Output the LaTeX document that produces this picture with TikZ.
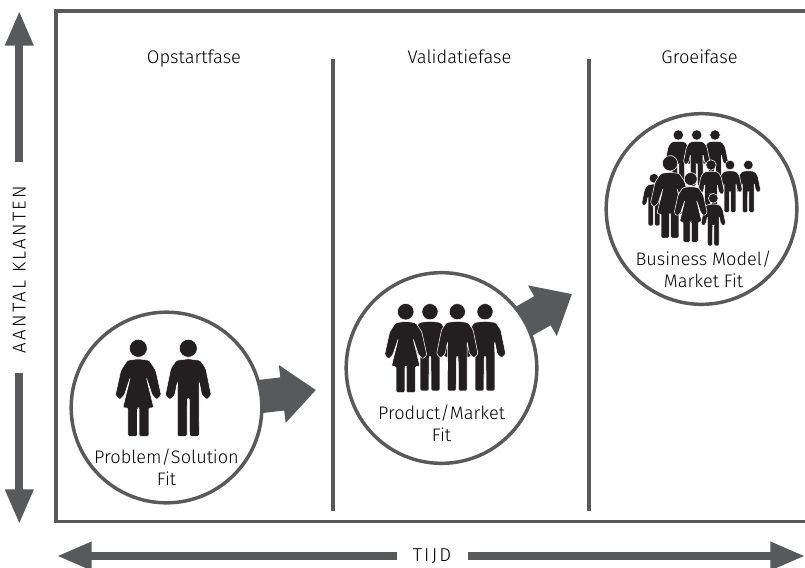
\documentclass[tikz,border=0pt]{standalone}
\usepackage{fontspec}
\setmainfont[UprightFont=* Light]{Fira Sans}
\usetikzlibrary{arrows.meta,backgrounds}
\definecolor{framegrey}{RGB}{88,89,91}
\definecolor{figblack}{RGB}{35,31,32}
\tikzset{
  frameline/.style={draw=framegrey,line width=2.8pt},
  fitcircle/.style={circle,draw=framegrey,line width=2.6pt,fill=white,minimum size=143pt,inner sep=0pt},
  fitarrow/.style={draw=framegrey,line width=25pt,-{Triangle[length=25.5pt,width=42pt]}},
  axisarrow/.style={draw=framegrey,line width=5.8pt,-{Triangle[length=26pt,width=20pt]}},
  phasetext/.style={font=\fontsize{13.7}{16}\selectfont,inner sep=0pt,anchor=base},
  fittext/.style={font=\fontsize{13.6}{16.5}\selectfont,align=center,inner sep=0pt},
  axistext/.style={font=\fontsize{14}{16}\selectfont\addfontfeature{LetterSpace=12},inner xsep=12pt,inner ysep=0pt},
  person/.style={fill=figblack,draw=white,line width=0.4pt,rounded corners=1pt},
  every pic/.style={yscale=-1},
  man/.pic={
    \path[person] (0,0) circle (9);
    \path[person] (0,10.5) -- (12,12) -- (17.5,20) -- (23,47) -- (18.5,51.5) -- (13.5,47) -- (10.8,33) -- (11,88) -- (1.2,88) -- (1,50) -- (-1,50) -- (-1.2,88) -- (-11,88) -- (-10.8,33) -- (-13.5,47) -- (-18.5,51.5) -- (-23,47) -- (-17.5,20) -- (-12,12) -- cycle;
  },
  woman/.pic={
    \path[person] (0,0) circle (9);
    \path[person] (0,10.5) -- (11,12) -- (17.5,22) -- (23,47) -- (18.5,51.5) -- (14,47) -- (8,29) -- (15.5,59.5) -- (10.5,59.5) -- (10.5,88) -- (0.8,88) -- (0.8,59.5) -- (-0.8,59.5) -- (-0.8,88) -- (-10.5,88) -- (-10.5,59.5) -- (-15.5,59.5) -- (-8,29) -- (-14,47) -- (-18.5,51.5) -- (-23,47) -- (-17.5,22) -- (-11,12) -- cycle;
  }
}
\begin{document}
\begin{tikzpicture}[x=0.75pt,y=0.75pt,yscale=-1,xscale=1]
\useasboundingbox (0,0) rectangle (805,567);

%Straight Lines [id:frame]
\draw [frameline] (805,11) -- (56,11) -- (56,521.5) -- (805,521.5) ;
\draw [frameline,line width=2.4pt] (333,59) -- (333,510.5) ;
\draw [frameline,line width=2.4pt] (589,59) -- (589,510.5) ;

%Shape: Circle [id:fit circles]
\node [fitcircle] (problemfit) at (166.5,407.5) {};
\node [fitcircle] (productfit) at (441.5,368) {};
\node [fitcircle] (businessfit) at (701.5,209) {};

%Straight Lines [id:fit arrows]
\coordinate (problemtip) at (316,390);
\coordinate (producttip) at (572,294);
\begin{pgfonlayer}{background}
\draw [fitarrow] (problemfit.center) -- (problemtip) ;
\draw [fitarrow] (productfit.center) -- (producttip) ;
\end{pgfonlayer}

%Shape: People [id:problem]
\pic at (138.3,348.3) {woman};
\pic at (188.3,348.3) {man};
%Shape: People [id:product]
\pic [scale=0.9] at (430,311.7) {man};
\pic [scale=0.92] at (405.7,311.7) {woman};
\pic [scale=0.9] at (485,311.7) {man};
\pic [scale=0.9] at (457.3,311.7) {man};
%Shape: People [id:business]
\pic [scale=0.58] at (678.3,135) {man};
\pic [scale=0.58] at (715,135) {man};
\pic [scale=0.58] at (696.7,135) {man};
\pic [scale=0.54] at (748.3,165) {man};
\pic [scale=0.54] at (730,165) {man};
\pic [scale=0.58] at (711,165) {man};
\pic [scale=0.54] at (654,178.3) {man};
\pic [scale=0.85] at (670,163.3) {woman};
\pic [scale=0.54] at (713.3,198.3) {man};
\pic [scale=0.72] at (690.7,179) {woman};

% Text Node
\node [phasetext] (opstart) at (194,63.5) {Opstartfase};
\node [phasetext] (validatie) at (459.5,63.5) {Validatiefase};
\node [phasetext] (groei) at (699.5,63.5) {Groeifase};
% Text Node
\node [fittext] (problemtext) at (166.5,467) {Problem/Solution\\Fit};
\node [fittext] (producttext) at (441.5,423) {Product/Market\\Fit};
\node [fittext] (businesstext) at (703.5,269.5) {Business Model/\\Market Fit};

%Straight Lines [id:axes]
\node [axistext,inner xsep=14.5pt,rotate=90] (klanten) at (19.3,269.5) {AANTAL KLANTEN};
\node [axistext] (tijd) at (432,556) {TIJD};
\coordinate (klantentop) at (19.3,11);
\coordinate (klantenbottom) at (19.3,524);
\coordinate (tijdleft) at (57,556);
\coordinate (tijdright) at (805,556);
\draw [axisarrow,shorten <=3pt] (klanten.east) -- (klantentop) ;
\draw [axisarrow] (klanten.west) -- (klantenbottom) ;
\draw [axisarrow] (tijd.west) -- (tijdleft) ;
\draw [axisarrow] (tijd.east) -- (tijdright) ;

\end{tikzpicture}
\end{document}
